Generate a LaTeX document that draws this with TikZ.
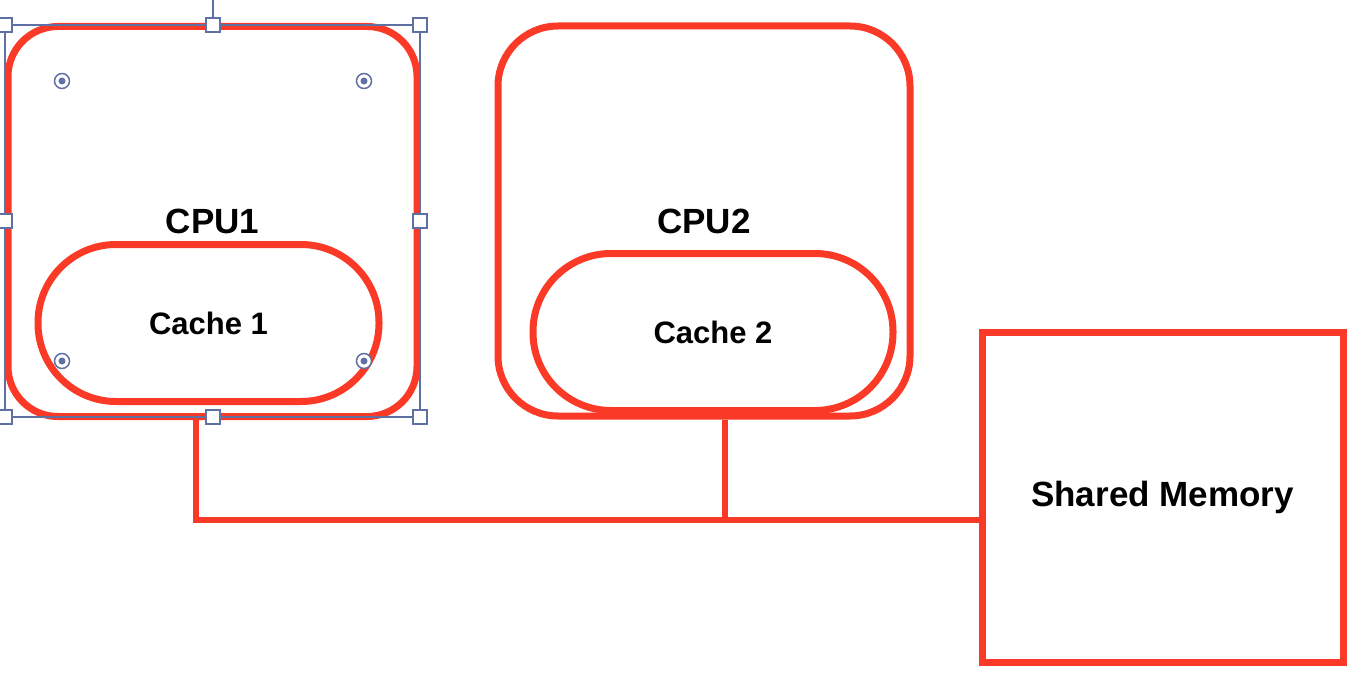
\documentclass[tikz,border=0pt]{standalone}
\usepackage{fontspec}
\setmainfont{Liberation Sans}
\usepackage{tikz}
\usetikzlibrary{calc}
\definecolor{cpured}{RGB}{250,58,38}
\definecolor{selblue}{RGB}{95,112,165}
\tikzset{
    cpubox/.style={
        draw=cpured,
        line width=7pt,
        rounded corners=50pt,
        font=\fontsize{35}{40}\selectfont\bfseries
    },
    cachebox/.style={
        draw=cpured,
        line width=7pt,
        rounded corners=78pt,
        minimum height=157pt,
        font=\fontsize{31}{36}\selectfont\bfseries
    },
    membox/.style={
        draw=cpured,
        line width=7pt,
        minimum width=361pt,
        minimum height=330pt,
        font=\fontsize{35}{40}\selectfont\bfseries
    },
    bus/.style={
        draw=cpured,
        line width=6pt
    },
    handle/.style={
        draw=selblue,
        line width=1.5pt,
        fill=white,
        minimum size=14pt,
        inner sep=0pt
    },
    radiusdot/.style={
        draw=selblue,
        line width=1.5pt,
        fill=white,
        circle,
        minimum size=15pt,
        inner sep=0pt,
        path picture={\fill[selblue] (path picture bounding box.center) circle (3.5pt);}
    }
}

\begin{document}
\begin{tikzpicture}[x=1pt,y=-1pt]

    \fill[white] (0,0) rectangle (1354,682);
    \useasboundingbox (0,0) rectangle (1354,682);

    %% CPU1
    \node (CPU1) [cpubox,minimum width=409pt,minimum height=390pt]
        at (212.5,221.5) {CPU1};
    \node (C1) [cachebox,minimum width=341pt]
        at (208.5,323) {Cache 1};

    %% CPU2
    \node (CPU2) [cpubox,minimum width=412pt,minimum height=390pt,rounded corners=60pt]
        at (704,221) {CPU2};
    \node (C2) [cachebox,minimum width=360pt]
        at (713,332) {Cache 2};

    %% Memory
    \node (Mem) [membox] at (1162.5,497) {Shared Memory};

    %% Bus
    \coordinate (busL) at (196,520);
    \coordinate (busM) at (725,520);
    \draw[bus] (CPU1.south -| busL) -- (busL) -- (busL -| Mem.west);
    \draw[bus] (CPU2.south -| busM) -- (busM);

    %% Selection frame round CPU1
    \draw[selblue,line width=1.5pt] (5,25) rectangle (420,417);
    \draw[selblue,line width=1.5pt] (213,0) -- (213,25);
    \node (h1) [handle] at (5,25) {};
    \node (h2) [handle] at (213,25) {};
    \node (h3) [handle] at (420,25) {};
    \node (h4) [handle] at (5,221) {};
    \node (h5) [handle] at (420,221) {};
    \node (h6) [handle] at (5,417) {};
    \node (h7) [handle] at (213,417) {};
    \node (h8) [handle] at (420,417) {};
    \node (r1) [radiusdot] at (62,81) {};
    \node (r2) [radiusdot] at (364,81) {};
    \node (r3) [radiusdot] at (62,361) {};
    \node (r4) [radiusdot] at (364,361) {};

\end{tikzpicture}
\end{document}
